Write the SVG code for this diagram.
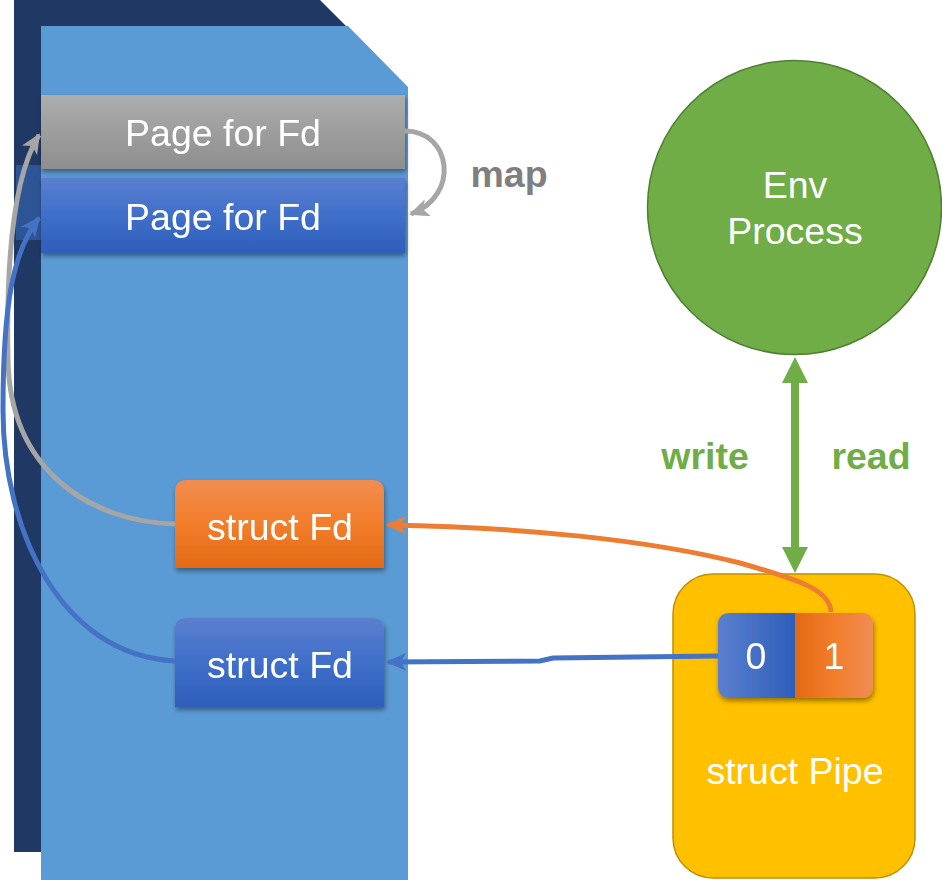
<svg xmlns="http://www.w3.org/2000/svg" width="942" height="880" viewBox="0 0 942 880">
<style>
text{font-family:"Liberation Sans",Arial,sans-serif;fill:#fff;text-anchor:middle;font-size:37.5px}
.lbl{font-weight:bold}
.conn{fill:none;stroke-width:5}
</style>
<defs>
<linearGradient id="gGray" x1="0" y1="0" x2="0" y2="1"><stop offset="0" stop-color="#ADADAD"/><stop offset="1" stop-color="#8E8E8E"/></linearGradient>
<linearGradient id="gBlue" x1="0" y1="0" x2="0" y2="1"><stop offset="0" stop-color="#5B7FCF"/><stop offset="0.5" stop-color="#3F6FCA"/><stop offset="1" stop-color="#2E5EB9"/></linearGradient>
<linearGradient id="gOrange" x1="0" y1="0" x2="0" y2="1"><stop offset="0" stop-color="#F28D50"/><stop offset="0.5" stop-color="#F27D2A"/><stop offset="1" stop-color="#E36A15"/></linearGradient>
<linearGradient id="gBlueH" x1="0" y1="0" x2="1" y2="0"><stop offset="0" stop-color="#5B7FCF"/><stop offset="1" stop-color="#2E5EB9"/></linearGradient>
<linearGradient id="gOrangeH" x1="0" y1="0" x2="1" y2="0"><stop offset="0" stop-color="#E36A15"/><stop offset="0.5" stop-color="#F27D2A"/><stop offset="1" stop-color="#F08C55"/></linearGradient>
<filter id="sh" x="-10%" y="-10%" width="125%" height="135%"><feDropShadow dx="1" dy="3" stdDeviation="2.5" flood-color="#000" flood-opacity="0.4"/></filter>
<marker id="aGray" markerUnits="userSpaceOnUse" markerWidth="22" markerHeight="20" refX="18" refY="9" orient="auto"><path d="M0 0 L20 9 L0 18 L5 9 Z" fill="#A6A6A6"/></marker>
<marker id="aBlue" markerUnits="userSpaceOnUse" markerWidth="22" markerHeight="20" refX="18" refY="9" orient="auto"><path d="M0 0 L20 9 L0 18 L5 9 Z" fill="#4472C4"/></marker>
<marker id="aOrange" markerUnits="userSpaceOnUse" markerWidth="22" markerHeight="20" refX="18" refY="9" orient="auto"><path d="M0 0 L20 9 L0 18 L5 9 Z" fill="#ED7D31"/></marker>
</defs>

<g id="memory">
<path d="M14 0 H320 L346 26 V852 H14 Z" fill="#203864"/>
<path d="M41 26 H348 L408 87 V880 H41 Z" fill="#5B9BD5"/>
<rect x="16" y="165" width="25" height="75" fill="#2D5596"/>
</g>

<g id="page-gray" filter="url(#sh)">
<rect x="41" y="95" width="364" height="74" fill="url(#gGray)"/>
<text x="223" y="146">Page for Fd</text>
</g>
<g id="page-blue" filter="url(#sh)">
<rect x="41" y="178" width="364" height="75" fill="url(#gBlue)"/>
<text x="223" y="230">Page for Fd</text>
</g>

<g id="fd-orange" filter="url(#sh)">
<path d="M175 568 V492 Q175 480 187 480 H372 Q384 480 384 492 V568 Z" fill="url(#gOrange)"/>
<text x="280" y="540">struct Fd</text>
</g>
<g id="fd-blue" filter="url(#sh)">
<path d="M175 707 V630 Q175 618 187 618 H372 Q384 618 384 630 V707 Z" fill="url(#gBlue)"/>
<text x="280" y="678">struct Fd</text>
</g>

<g id="env">
<circle cx="794.5" cy="207.5" r="147" fill="#70AD47" stroke="#507E32" stroke-width="1.5"/>
<text x="795" y="198">Env</text>
<text x="795" y="244">Process</text>
</g>

<g id="pipe">
<rect x="673" y="574" width="242" height="304" rx="40" fill="#FFC000" stroke="#BF9000" stroke-width="1.5"/>
<text x="795" y="784">struct Pipe</text>
</g>
<g id="fds" filter="url(#sh)">
<path d="M795 613 H730 Q718 613 718 625 V686 Q718 698 730 698 H795 Z" fill="url(#gBlueH)"/>
<path d="M795 613 H861 Q873 613 873 625 V686 Q873 698 861 698 H795 Z" fill="url(#gOrangeH)"/>
<text x="756" y="669">0</text>
<text x="834" y="669">1</text>
</g>

<g id="labels">
<text class="lbl" x="509" y="187" style="fill:#7F7F7F">map</text>
<text class="lbl" x="705" y="469" style="fill:#70AD47">write</text>
<text class="lbl" x="871" y="469" style="fill:#70AD47">read</text>
</g>

<g id="connectors">
<path class="conn" d="M405 131 C452 131 460 196 411 214" stroke="#A6A6A6" marker-end="url(#aGray)"/>
<path class="conn" d="M175 524 C90 522 10 470 8 360 C6 260 14 175 39 135" stroke="#A6A6A6" marker-end="url(#aGray)"/>
<path class="conn" d="M175 661 C60 655 3 530 3 410 C3 300 14 250 39 218" stroke="#4472C4" marker-end="url(#aBlue)"/>
<path class="conn" d="M831 612 C830 590 800 580 740 563 C650 540 520 527 388 525" stroke="#ED7D31" marker-end="url(#aOrange)"/>
<path class="conn" d="M718 656 L553 658 L540 661 L388 662" stroke="#4472C4" marker-end="url(#aBlue)"/>
<line x1="795" y1="380" x2="795" y2="550" stroke="#70AD47" stroke-width="8"/>
<polygon points="795,357 808,383 782,383" fill="#70AD47"/>
<polygon points="795,573 808,547 782,547" fill="#70AD47"/>
</g>
</svg>
